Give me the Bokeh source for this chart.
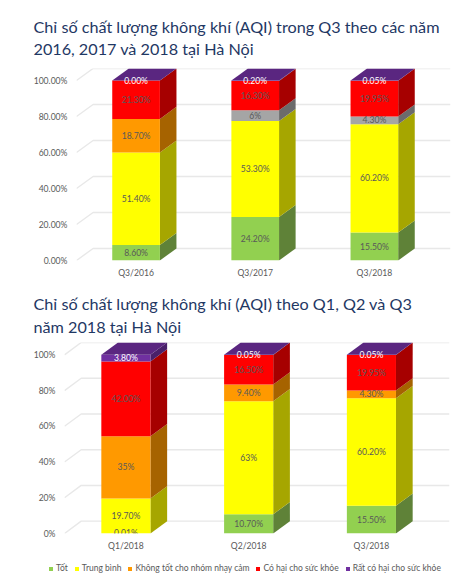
from bokeh.plotting import figure
from bokeh.layouts import column
from bokeh.models import FixedTicker, Legend, LegendItem, Range1d
from bokeh.core.properties import value
from bokeh.embed import file_html
from bokeh.resources import INLINE
import numpy as np

# ---- data -------------------------------------------------------------
SERIES = ["Tốt", "Trung bình", "Không tốt cho nhóm nhạy cảm", "Có hại cho sức khỏe", "Rất có hại cho sức khỏe"]

TITLE_A = "Chỉ số chất lượng không khí (AQI) trong Q3 theo các năm\n2016, 2017 và 2018 tại Hà Nội"
CATS_A = ["Q3/2016", "Q3/2017", "Q3/2018"]
TOT_A = [8.6, 24.2, 15.5]
TB_A = [51.4, 53.3, 60.2]
KT_A = [18.7, 6.0, 4.3]
CH_A = [21.3, 16.3, 19.95]
RCH_A = [0.0, 0.2, 0.05]
LABELS_A = [
    ["8.60%", "24.20%", "15.50%"],
    ["51.40%", "53.30%", "60.20%"],
    ["18.70%", "6%", "4.30%"],
    ["21.30%", "16.30%", "19.95%"],
    ["0.00%", "0.20%", "0.05%"],
]
TICKS_A = ["0.00%", "20.00%", "40.00%", "60.00%", "80.00%", "100.00%"]

TITLE_B = "Chỉ số chất lượng không khí (AQI) theo Q1, Q2 và Q3\nnăm 2018 tại Hà Nội"
CATS_B = ["Q1/2018", "Q2/2018", "Q3/2018"]
TOT_B = [0.01, 10.7, 15.5]
TB_B = [19.7, 63.0, 60.2]
KT_B = [35.0, 9.4, 4.3]
CH_B = [42.0, 16.5, 19.95]
RCH_B = [3.8, 0.05, 0.05]
LABELS_B = [
    ["0.01%", "10.70%", "15.50%"],
    ["19.70%", "63%", "60.20%"],
    ["35%", "9.40%", "4.30%"],
    ["42.00%", "16.50%", "19.95%"],
    ["3.80%", "0.05%", "0.05%"],
]
TICKS_B = ["0%", "20%", "40%", "60%", "80%", "100%"]

# ---- styles ------------------------------------------------------------
FRONT = ["#92D050", "#FFFF00", "#FF9900", "#FF0000", "#7030A0"]
SIDE = ["#5F8238", "#A6A600", "#A66300", "#A60000", "#49206A"]
GREY_FRONT, GREY_SIDE = "#A5A5A5", "#6B6B6B"
TOP_FACE = "#5A2680"
GRID = "#E8E8E8"
TEXT = "#595959"
FONT = "Lato"
BAR_W = 0.4


def build(title, cats, rows, labels, ticks, frame_w, frame_h, left, right, top, bottom, dx, dy, standoff, grey=False):
    p = figure(frame_width=frame_w, frame_height=frame_h, output_backend="svg", toolbar_location=None,
               min_border_left=left, min_border_right=right, min_border_top=top, min_border_bottom=bottom,
               x_range=Range1d(0, 3 + dx), y_range=Range1d(0, 100 + dy))
    p.outline_line_color = None
    p.grid.visible = False
    p.background_fill_color = "white"

    p.title.text = title
    p.title.text_font = FONT
    p.title.text_font_size = "16.2px"
    p.title.text_font_style = "normal"
    p.title.text_color = "#1F3864"
    p.title.text_line_height = 1.2
    p.title.align = "left"
    p.title.vertical_align = "top"
    p.title.offset = 33 - left
    p.title.standoff = standoff

    vals = np.array(rows, dtype=float)
    pct = vals / vals.sum(axis=0) * 100
    tops = np.cumsum(pct, axis=0)
    bots = tops - pct
    centers = np.arange(3) + 0.5
    tick_vals = [0, 20, 40, 60, 80, 100]

    p.multi_line([[0, dx, 3 + dx] for _ in tick_vals],
                 [[t, t + dy, t + dy] for t in tick_vals],
                 line_color=GRID, line_width=1.4)

    for s in range(5):
        use_grey = grey and s == 2
        front = [GREY_FRONT if use_grey and c > 0 else FRONT[s] for c in range(3)]
        side = [GREY_SIDE if use_grey and c > 0 else SIDE[s] for c in range(3)]
        xr = centers + BAR_W / 2
        p.patches([[x, x + dx, x + dx, x] for x in xr],
                  [[b, b + dy, t + dy, t] for b, t in zip(bots[s], tops[s])],
                  fill_color=side, line_color=None)
        p.vbar(x=centers, width=BAR_W, bottom=bots[s], top=tops[s], fill_color=front, line_color=None)

    xl = centers - BAR_W / 2
    p.patches([[x, x + BAR_W, x + BAR_W + dx, x + dx] for x in xl],
              [[100, 100, 100 + dy, 100 + dy] for _ in xl],
              fill_color=TOP_FACE, line_color=None)

    for s in range(5):
        color = "white" if s == 4 else TEXT
        ymid = (bots[s] + tops[s]) / 2
        p.text(centers, ymid, text=labels[s], text_align="center", text_baseline="middle",
               text_font=value(FONT), text_font_size="8.6px", text_color=color)

    ya = p.yaxis[0]
    ya.ticker = FixedTicker(ticks=tick_vals)
    ya.major_label_overrides = {t: l for t, l in zip(tick_vals, ticks)}
    xa = p.xaxis[0]
    xa.ticker = FixedTicker(ticks=list(centers))
    xa.major_label_overrides = {float(c): l for c, l in zip(centers, cats)}
    for a in (xa, ya):
        a.axis_line_color = None
        a.major_tick_line_color = None
        a.minor_tick_line_color = None
        a.major_tick_in = 0
        a.major_tick_out = 0
        a.major_label_text_font = FONT
        a.major_label_text_font_size = "8.6px"
        a.major_label_text_color = TEXT
    ya.major_label_standoff = 9
    xa.major_label_standoff = 7
    return p


def legend_strip():
    p = figure(width=472, height=28, output_backend="svg", toolbar_location=None,
               min_border=0, x_axis_location=None, y_axis_location=None,
               x_range=Range1d(0, 1), y_range=Range1d(0, 1))
    p.outline_line_color = None
    p.grid.visible = False
    items = []
    for s, name in enumerate(SERIES):
        r = p.vbar(x=[s], bottom=[0], top=[0], width=0, fill_color=FRONT[s], line_color=None)
        items.append(LegendItem(label=name, renderers=[r]))
    lg = Legend(items=items, orientation="horizontal", location="left",
                border_line_color=None, background_fill_color=None, background_fill_alpha=0,
                glyph_width=5, glyph_height=5, label_text_font=FONT, label_width=0,
                label_text_font_size="8.5px", label_text_color=TEXT,
                spacing=6, label_standoff=3, padding=0, margin=48)
    p.add_layout(lg)
    return p


rows_a = [TOT_A, TB_A, KT_A, CH_A, RCH_A]
rows_b = [TOT_B, TB_B, KT_B, CH_B, RCH_B]
a = build(TITLE_A, CATS_A, rows_a, LABELS_A, TICKS_A, 374, 192, 76, 22, 68, 26, 0.139, 6.7, 16, grey=True)
b = build(TITLE_B, CATS_B, rows_b, LABELS_B, TICKS_B, 385, 191, 64, 23, 56, 21, 0.136, 6.9, 9)
c = legend_strip()

page = column(column(a), column(b), column(c), spacing=0)
open("out.html", "w").write(file_html(page, INLINE))
